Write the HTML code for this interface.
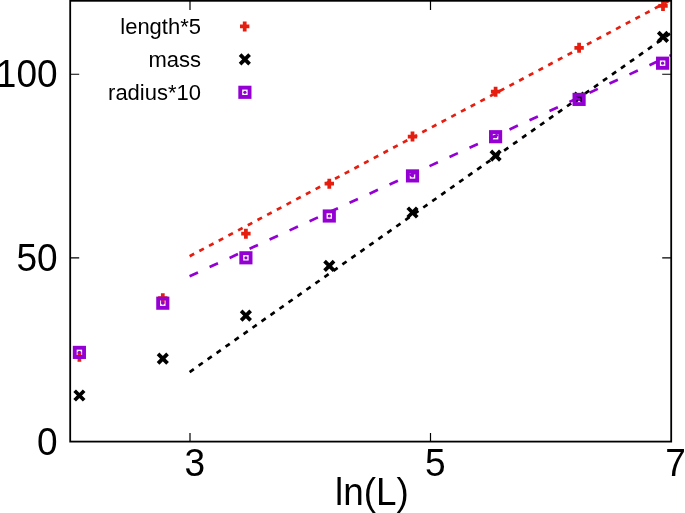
<!DOCTYPE html>
<html><head><meta charset="utf-8"><title>plot</title>
<style>html,body{margin:0;padding:0;background:#fff;overflow:hidden}svg{display:block;will-change:transform}text{font-family:"Liberation Sans",sans-serif;fill:#000}</style></head><body>
<svg width="685" height="513" viewBox="0 0 685 513">
<rect x="0" y="0" width="685" height="513" fill="#fff"/>
<path d="M74.70 356.80H84.10M79.40 351.80V361.80" stroke="#e51e10" stroke-width="3.75" fill="none"/>
<path d="M158.10 298.20H167.50M162.80 293.20V303.20" stroke="#e51e10" stroke-width="3.75" fill="none"/>
<path d="M241.20 233.70H250.60M245.90 228.70V238.70" stroke="#e51e10" stroke-width="3.75" fill="none"/>
<path d="M324.60 183.70H334.00M329.30 178.70V188.70" stroke="#e51e10" stroke-width="3.75" fill="none"/>
<path d="M407.80 136.50H417.20M412.50 131.50V141.50" stroke="#e51e10" stroke-width="3.75" fill="none"/>
<path d="M490.90 91.70H500.30M495.60 86.70V96.70" stroke="#e51e10" stroke-width="3.75" fill="none"/>
<path d="M574.40 47.80H583.80M579.10 42.80V52.80" stroke="#e51e10" stroke-width="3.75" fill="none"/>
<path d="M658.30 5.90H667.70M663.00 0.90V10.90" stroke="#e51e10" stroke-width="3.75" fill="none"/>
<path d="M189.65 256.2L671.2 -0.3" stroke="#e51e10" stroke-width="2.7" stroke-dasharray="5.1 5.88" fill="none"/>
<path d="M74.65 390.75L84.15 400.25M74.65 400.25L84.15 390.75" stroke="#000000" stroke-width="3.75" fill="none"/>
<path d="M158.05 353.95L167.55 363.45M158.05 363.45L167.55 353.95" stroke="#000000" stroke-width="3.75" fill="none"/>
<path d="M241.15 310.85L250.65 320.35M241.15 320.35L250.65 310.85" stroke="#000000" stroke-width="3.75" fill="none"/>
<path d="M324.55 261.05L334.05 270.55M324.55 270.55L334.05 261.05" stroke="#000000" stroke-width="3.75" fill="none"/>
<path d="M407.75 207.75L417.25 217.25M407.75 217.25L417.25 207.75" stroke="#000000" stroke-width="3.75" fill="none"/>
<path d="M490.85 150.85L500.35 160.35M490.85 160.35L500.35 150.85" stroke="#000000" stroke-width="3.75" fill="none"/>
<path d="M574.35 92.85L583.85 102.35M574.35 102.35L583.85 92.85" stroke="#000000" stroke-width="3.75" fill="none"/>
<path d="M658.25 32.10L667.75 41.60M658.25 41.60L667.75 32.10" stroke="#000000" stroke-width="3.75" fill="none"/>
<path d="M189.65 372.03L671.2 32.9" stroke="#000000" stroke-width="2.7" stroke-dasharray="5.1 5.89" fill="none"/>
<rect x="74.75" y="347.75" width="9.30" height="9.30" stroke="#9400d3" stroke-width="3.85" fill="none"/><circle cx="79.40" cy="352.40" r="1.6" fill="#9400d3"/>
<rect x="158.15" y="298.55" width="9.30" height="9.30" stroke="#9400d3" stroke-width="3.85" fill="none"/><circle cx="162.80" cy="303.20" r="1.6" fill="#9400d3"/>
<rect x="241.25" y="253.15" width="9.30" height="9.30" stroke="#9400d3" stroke-width="3.85" fill="none"/><circle cx="245.90" cy="257.80" r="1.6" fill="#9400d3"/>
<rect x="324.65" y="211.35" width="9.30" height="9.30" stroke="#9400d3" stroke-width="3.85" fill="none"/><circle cx="329.30" cy="216.00" r="1.6" fill="#9400d3"/>
<rect x="407.85" y="171.25" width="9.30" height="9.30" stroke="#9400d3" stroke-width="3.85" fill="none"/><circle cx="412.50" cy="175.90" r="1.6" fill="#9400d3"/>
<rect x="490.95" y="132.05" width="9.30" height="9.30" stroke="#9400d3" stroke-width="3.85" fill="none"/><circle cx="495.60" cy="136.70" r="1.6" fill="#9400d3"/>
<rect x="574.45" y="94.75" width="9.30" height="9.30" stroke="#9400d3" stroke-width="3.85" fill="none"/><circle cx="579.10" cy="99.40" r="1.6" fill="#9400d3"/>
<rect x="657.95" y="58.55" width="9.30" height="9.30" stroke="#9400d3" stroke-width="3.85" fill="none"/><circle cx="662.60" cy="63.20" r="1.6" fill="#9400d3"/>
<path d="M189.6 276.27L671.2 55.2" stroke="#9400d3" stroke-width="2.7" stroke-dasharray="9.2 12.8" fill="none"/>
<rect x="70.2" y="0.8" width="601.0" height="440.8" fill="none" stroke="#000" stroke-width="1.8"/>
<path d="M190.00 441.6V432.90000000000003M190.00 0.8V9.9M430.50 441.6V432.90000000000003M430.50 0.8V9.9M70.2 257.93H79.2M671.2 257.93H662.2M70.2 74.27H79.2M671.2 74.27H662.2" stroke="#000" stroke-width="1.2" fill="none"/>
<path d="M240.00 26.40H249.40M244.70 21.40V31.40" stroke="#e51e10" stroke-width="3.75" fill="none"/>
<path d="M240.10 54.55L249.60 64.05M240.10 64.05L249.60 54.55" stroke="#000000" stroke-width="3.75" fill="none"/>
<rect x="240.25" y="87.65" width="9.30" height="9.30" stroke="#9400d3" stroke-width="3.85" fill="none"/><circle cx="244.90" cy="92.30" r="1.6" fill="#9400d3"/>
<text transform="translate(201 33.6) scale(1 1.03)" font-size="22" text-anchor="end">length*5</text>
<text transform="translate(201 66.7) scale(1 1.03)" font-size="22" text-anchor="end">mass</text>
<text transform="translate(201 99.7) scale(1 1.03)" font-size="22" text-anchor="end">radius*10</text>
<text transform="translate(57.6 454.80) scale(0.985 1.052)" font-size="37.6" text-anchor="end">0</text>
<text transform="translate(57.6 271.13) scale(0.985 1.052)" font-size="37.6" text-anchor="end">50</text>
<text transform="translate(57.6 87.47) scale(0.985 1.052)" font-size="37.6" text-anchor="end">100</text>
<text transform="translate(194.80 475.6) scale(0.985 1.052)" font-size="37.6" text-anchor="middle">3</text>
<text transform="translate(435.20 475.6) scale(0.985 1.052)" font-size="37.6" text-anchor="middle">5</text>
<text transform="translate(675.60 475.6) scale(0.985 1.052)" font-size="37.6" text-anchor="middle">7</text>
<text transform="translate(335.0 505.1) scale(0.98 1.015)" font-size="37.6">ln(L)</text>
</svg></body></html>
